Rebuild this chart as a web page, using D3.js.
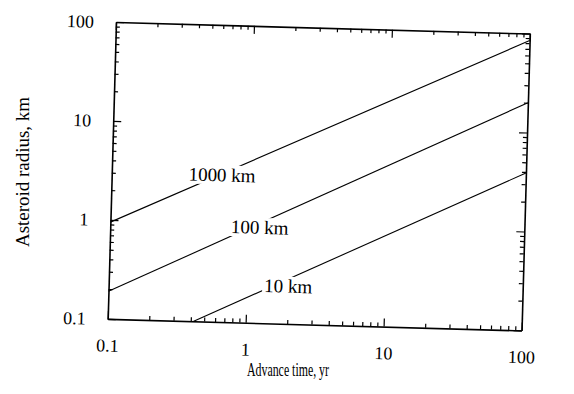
<!DOCTYPE html>
<html>
<head>
<meta charset="utf-8">
<script src="https://cdn.jsdelivr.net/npm/d3@7"></script>
<style>
  body { margin: 0; background: #fff; }
  svg { display: block; font-family: "Liberation Serif", "Times New Roman", serif; }
  .axis path.domain { stroke: #000; stroke-width: 1.6; }
  .axis .tick line { stroke: #000; stroke-width: 1.2; }
  .axis .tick text { font-size: 18px; fill: #000; }
  .curve { fill: none; stroke: #000; stroke-width: 1.1; }
  .curve-label { font-family: "Liberation Serif", serif; font-size: 19px; fill: #000; }
  .title { font-family: "Liberation Serif", serif; font-size: 18px; fill: #000; }
</style>
</head>
<body>
<div id="chart"></div>
<script>
// values: advance time (yr) against asteroid radius (km)
var curveNames = ["1000 km", "100 km", "10 km"];
var curveTimes = [[0.1, 100], [0.1, 100], [0.42, 100]];
var curveRadii = [[0.95, 85], [0.19, 20], [0.1, 3.9]];
// time (yr) at which each curve label sits
var labelTimes = [0.63, 1.21, 2.0];

var xTicks = [0.1, 1, 10, 100];
var xTickLabels = ["0.1", "1", "10", "100"];
var yTicks = [0.1, 1, 10, 100];
var yTickLabels = ["0.1", "1", "10", "100"];

class LogChart {

    constructor(config) {
        this._config = {
            renderTo: config.renderTo,
            width: config.width,
            height: config.height,
            origin: config.origin,
            plotWidth: config.plotWidth,
            plotHeight: config.plotHeight,
            tilt: config.tilt || 0,
            majorTick: config.majorTick || 8,
            minorTick: config.minorTick || 4,
            labelDy: config.labelDy
        };
        this.renderUI();
    }

    renderUI() {
        var c = this._config,
            svg = d3.select(c.renderTo).append("svg")
            .attr("width", c.width)
            .attr("height", c.height),
            // the scanned figure sits slightly rotated on the page
            g = svg.append("g")
            .attr("transform", "translate(" + c.origin[0] + "," + c.origin[1] + ") rotate(" + c.tilt + ")");

        this.x = d3.scaleLog().domain([0.1, 100]).range([0, c.plotWidth]);
        this.y = d3.scaleLog().domain([0.1, 100]).range([c.plotHeight, 0]);

        this.drawAxes(g);
        this.drawCurves(g);
        this.drawTitles(svg);
    }

    /**
     * Inward major and minor ticks on all four sides
     */
    drawAxes(g) {
        var c = this._config, x = this.x, y = this.y;
        var xMinor = x.ticks().filter(function (d) { return xTicks.indexOf(d) < 0; });
        var yMinor = y.ticks().filter(function (d) { return yTicks.indexOf(d) < 0; });
        var fx = function (d) { return xTickLabels[xTicks.indexOf(d)]; };
        var fy = function (d) { return yTickLabels[yTicks.indexOf(d)]; };

        var sides = [
            { axis: d3.axisBottom(x), at: [0, c.plotHeight], major: xTicks, minor: xMinor, fmt: fx, pad: 20 },
            { axis: d3.axisTop(x), at: [0, 0], major: xTicks, minor: xMinor, fmt: null },
            { axis: d3.axisLeft(y), at: [0, 0], major: yTicks, minor: yMinor, fmt: fy, pad: 22 },
            { axis: d3.axisRight(y), at: [c.plotWidth, 0], major: yTicks, minor: yMinor, fmt: null }
        ];

        sides.forEach(function (s) {
            var pos = "translate(" + s.at[0] + "," + s.at[1] + ")";
            g.append("g")
                .attr("class", "axis")
                .attr("transform", pos)
                .call(s.axis.tickValues(s.minor).tickSizeInner(-c.minorTick).tickSizeOuter(0).tickFormat(""))
                .select(".domain").remove();
            g.append("g")
                .attr("class", "axis")
                .attr("transform", pos)
                .call(s.axis.tickValues(s.major).tickSizeInner(-c.majorTick).tickSizeOuter(0)
                    .tickPadding(s.pad || 3).tickFormat(s.fmt || ""));
        });
        // let the serif face from the stylesheet through
        g.selectAll(".axis").attr("font-family", null).attr("font-size", null);
    }

    /**
     * Straight lines on log-log axes, broken where the labels sit
     */
    drawCurves(g) {
        var c = this._config, x = this.x, y = this.y;
        var line = d3.line()
            .x(function (d) { return x(d[0]); })
            .y(function (d) { return y(d[1]); });

        curveNames.forEach(function (name, i) {
            var pts = d3.zip(curveTimes[i], curveRadii[i]);
            g.append("path")
                .attr("class", "curve")
                .attr("d", line(pts));

            // radius at the label time, on the straight log-log line
            var r = d3.scaleLog().domain(curveTimes[i]).range(curveRadii[i].map(Math.log10));
            var lx = x(labelTimes[i]),
                ly = y(Math.pow(10, r(labelTimes[i]))) + c.labelDy[i];

            var lab = g.append("g");
            var txt = lab.append("text")
                .attr("class", "curve-label")
                .attr("font-family", "Liberation Serif")
                .attr("x", lx)
                .attr("y", ly)
                .attr("dy", "0.35em")
                .attr("text-anchor", "middle")
                .text(name);
            var bb = txt.node().getBBox();
            lab.insert("rect", "text")
                .attr("x", bb.x - 2)
                .attr("y", bb.y + 1)
                .attr("width", bb.width + 4)
                .attr("height", bb.height - 2)
                .attr("fill", "#fff");
        });
    }

    drawTitles(svg) {
        svg.append("text")
            .attr("class", "title")
            .attr("x", 288)
            .attr("y", 376)
            .attr("text-anchor", "middle")
            .attr("textLength", 82)
            .attr("lengthAdjust", "spacingAndGlyphs")
            .style("font-size", "18px")
            .text("Advance time, yr");

        svg.append("text")
            .attr("class", "title")
            .attr("transform", "translate(29,172) rotate(-90)")
            .attr("text-anchor", "middle")
            .attr("textLength", 150)
            .attr("lengthAdjust", "spacingAndGlyphs")
            .text("Asteroid radius, km");
    }
}

new LogChart({
    renderTo: document.getElementById("chart"),
    width: 574,
    height: 394,
    origin: [116, 22],
    plotWidth: 414,
    plotHeight: 297,
    tilt: 1.6,
    majorTick: 8,
    minorTick: 4,
    labelDy: [1, 4, 7]
});
</script>
</body>
</html>
